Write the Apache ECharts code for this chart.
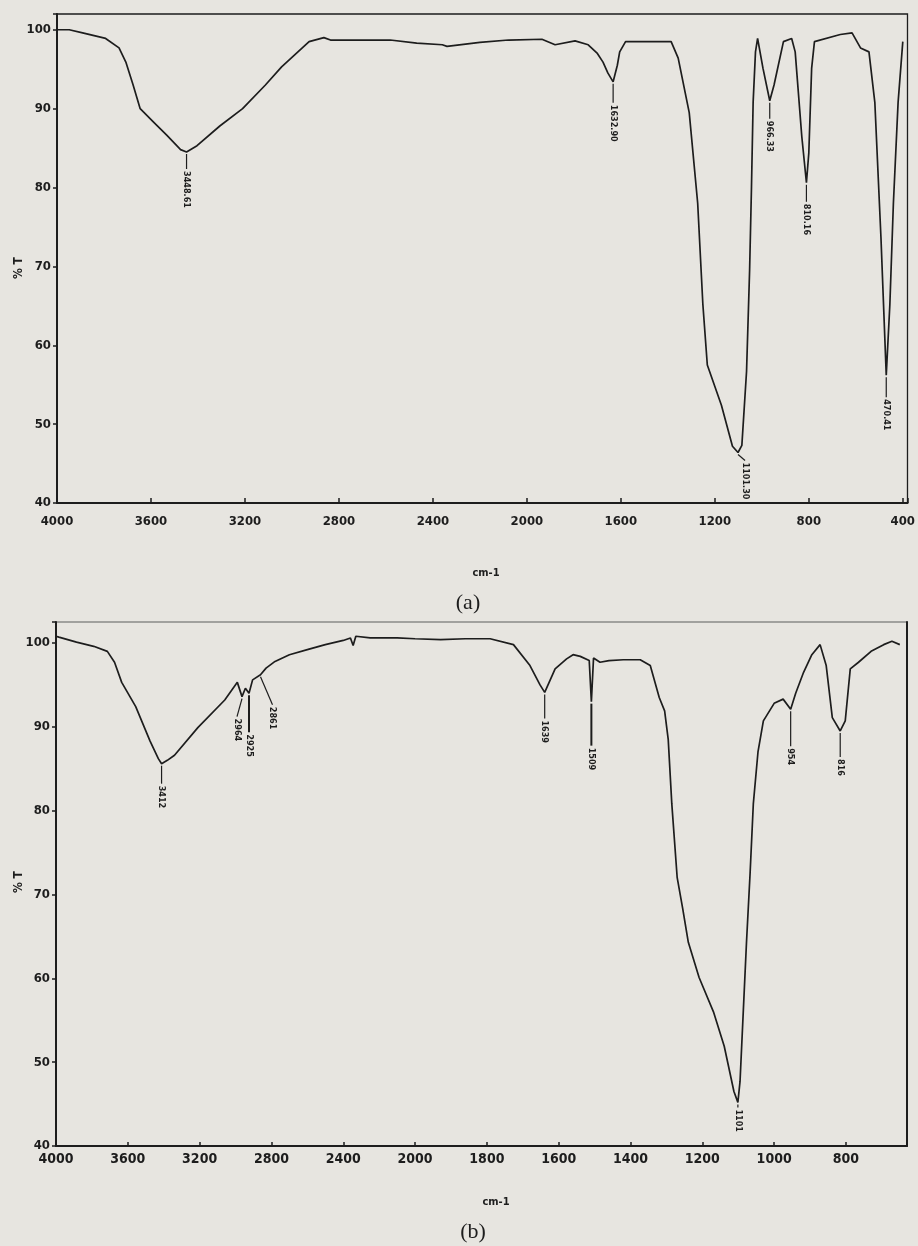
<!DOCTYPE html>
<html>
<head>
<meta charset="utf-8">
<script src="https://cdn.jsdelivr.net/npm/echarts@6/dist/echarts.min.js"></script>
<style>
  html, body { margin: 0; padding: 0; background: #e7e5e0; }
  #chart { width: 918px; height: 1246px; }
</style>
</head>
<body>
<div id="chart"></div>
<script>
// spectrum (a): wavenumber (cm-1) and %T
const wnA = [4000, 3948, 3891, 3793, 3736, 3707, 3676, 3646, 3589, 3532, 3474, 3448.61, 3404, 3307, 3210, 3113, 3044, 2927, 2864, 2836, 2582, 2469, 2360, 2340, 2200, 2078, 1936, 1880, 1795, 1739, 1700, 1676, 1655, 1632.9, 1615, 1605, 1580, 1386, 1356, 1309, 1273, 1251, 1232, 1172, 1125, 1101.3, 1085, 1065, 1052, 1044, 1037, 1027, 1018, 995, 966.33, 948, 908, 873, 858, 830, 810.16, 800, 788, 776, 666, 616, 580, 544, 519, 493, 470.41, 455, 440, 420, 400]
const tA = [100.0, 100.0, 99.6, 98.9, 97.7, 95.9, 93.0, 90.0, 88.3, 86.6, 84.8, 84.5, 85.3, 87.8, 90.0, 93.0, 95.3, 98.5, 99.0, 98.7, 98.7, 98.3, 98.1, 97.9, 98.4, 98.7, 98.8, 98.1, 98.6, 98.1, 97.0, 95.9, 94.5, 93.4, 95.5, 97.2, 98.5, 98.5, 96.4, 89.5, 78.0, 65.2, 57.5, 52.4, 47.2, 46.4, 47.3, 56.7, 69.5, 80.1, 90.8, 97.2, 98.9, 95.1, 91.0, 93.0, 98.5, 98.9, 97.2, 86.5, 80.6, 84.4, 95.1, 98.5, 99.4, 99.6, 97.7, 97.2, 90.8, 73.7, 56.2, 65.2, 78.0, 90.8, 98.5]
const peakWnA = [3448.61, 1632.9, 1101.3, 966.33, 810.16, 470.41]
const peakTA = [84.5, 93.4, 46.4, 91.0, 80.6, 56.2]
const peakTextA = ['3448.61', '1632.90', '1101.30', '966.33', '810.16', '470.41']

// spectrum (b)
const wnB = [4000, 3984, 3886, 3790, 3714, 3674, 3634, 3556, 3476, 3430, 3412, 3380, 3340, 3210, 3060, 2990, 2964, 2945, 2925, 2905, 2861, 2830, 2780, 2700, 2600, 2500, 2400, 2360, 2345, 2330, 2250, 2100, 2000, 1929, 1860, 1791, 1726, 1680, 1652, 1639, 1610, 1578, 1560, 1540, 1515, 1509, 1503, 1485, 1460, 1420, 1373, 1345, 1320, 1305, 1295, 1285, 1270, 1255, 1239, 1209, 1169, 1139, 1112, 1101, 1095, 1086, 1077, 1067, 1058, 1045, 1030, 1000, 975, 954, 940, 918, 895, 872, 855, 838, 816, 802, 788, 765, 730, 695, 672, 650]
const tB = [100.8, 100.7, 100.1, 99.6, 99.0, 97.7, 95.3, 92.4, 88.3, 86.2, 85.6, 86.0, 86.6, 89.9, 93.2, 95.3, 93.6, 94.6, 94.0, 95.6, 96.2, 97.0, 97.8, 98.6, 99.2, 99.8, 100.3, 100.6, 99.7, 100.8, 100.6, 100.6, 100.5, 100.4, 100.5, 100.5, 99.8, 97.3, 95.0, 94.1, 96.9, 98.1, 98.6, 98.4, 97.9, 93.0, 98.2, 97.7, 97.9, 98.0, 98.0, 97.3, 93.5, 91.9, 88.5, 80.8, 72.0, 68.4, 64.3, 60.1, 56.0, 51.9, 46.5, 45.2, 47.7, 56.0, 64.3, 72.5, 80.8, 87.0, 90.7, 92.8, 93.3, 92.1, 94.0, 96.5, 98.6, 99.8, 97.3, 91.1, 89.5, 90.7, 96.9, 97.7, 99.0, 99.8, 100.2, 99.8]
const peakWnB = [3412, 2964, 2925, 2861, 1639, 1509, 1101, 954, 816]
const peakTB = [85.6, 93.6, 94.0, 96.2, 94.1, 93.0, 45.2, 92.1, 89.5]
const peakTextB = ['3412', '2964', '2925', '2861', '1639', '1509', '1101', '954', '816']

// (a) is linear, 4000 at the left
const posA = wn => 4000 - wn
// (b) changes scale at 2000 cm-1 (400 per tick left, 200 per tick right)
const posB = wn => (wn >= 2000 ? (4000 - wn) / 2 : 1000 + (2000 - wn))
const labelB = p => (p <= 1000 ? 4000 - 2 * p : 2000 - (p - 1000))

// marker offsets (px) for the peak labels
const markA = [
  { dx: 0, len: 15 }, { dx: 0, len: 19 }, { dx: 7, len: 6 },
  { dx: 0, len: 16 }, { dx: 0, len: 17 }, { dx: 0, len: 20 }
]
const markB = [
  { dx: 0, len: 18 }, { dx: -5, len: 18 }, { dx: 0, len: 37, w: 2 }, { dx: 12, len: 28 },
  { dx: 0, len: 24 }, { dx: 0, len: 42, w: 2 }, { dx: 0, len: 3 }, { dx: 0, len: 35 }, { dx: 0, len: 24 }
]

const ink = '#1d1d1d'
const tickFont = "'Liberation Sans Narrow', 'DejaVu Sans Condensed', 'Liberation Sans', sans-serif"

function peakSeries(gi, xs, ys, texts, marks) {
  return {
    type: 'custom',
    xAxisIndex: gi,
    yAxisIndex: gi,
    silent: true,
    z: 5,
    data: xs.map((x, i) => [x, ys[i], i]),
    renderItem(params, api) {
      const c = api.coord([api.value(0), api.value(1)])
      const i = api.value(2)
      const m = marks[i]
      const x2 = c[0] + m.dx
      const y2 = c[1] + 2 + m.len
      return {
        type: 'group',
        children: [
          { type: 'line', shape: { x1: c[0], y1: c[1] + 2, x2: x2, y2: y2 }, style: { stroke: ink, lineWidth: m.w || 1.2 } },
          {
            type: 'text', x: x2, y: y2 + 2, rotation: -Math.PI / 2,
            style: { text: texts[i], font: "bold 9px " + tickFont, fill: ink, align: 'left', verticalAlign: 'middle' }
          }
        ]
      }
    }
  }
}

function yAxisCfg(gi, max) {
  return {
    type: 'value', gridIndex: gi, min: 40, max: max, interval: 10,
    axisLine: { show: true, lineStyle: { color: ink, width: 2 } },
    axisTick: { show: true, length: 4, lineStyle: { color: ink, width: 1.5 } },
    axisLabel: {
      color: ink, fontFamily: tickFont, fontWeight: 'bold', fontSize: 13, margin: 6,
      formatter: v => (v % 10 === 0 ? String(v) : '')
    },
    splitLine: { show: false }
  }
}

const chart = echarts.init(document.getElementById('chart'), null, { renderer: 'canvas' })
chart.setOption({
  backgroundColor: '#e7e5e0',
  animation: false,
  grid: [
    { left: 57, top: 14, width: 855, height: 489, show: true, borderColor: ink, borderWidth: 1.3, backgroundColor: 'transparent' },
    { left: 56, top: 622, width: 851, height: 524, show: true, borderColor: '#8a8a88', borderWidth: 1.3, backgroundColor: 'transparent' }
  ],
  xAxis: [
    {
      type: 'value', gridIndex: 0, min: 0, max: 3620, interval: 400,
      axisLine: { show: true, lineStyle: { color: ink, width: 2 } },
      axisTick: { show: true, inside: true, length: 5, lineStyle: { color: ink, width: 1.5 } },
      axisLabel: {
        color: ink, fontFamily: tickFont, fontWeight: 'bold', fontSize: 13, margin: 12,
        formatter: v => (v % 400 === 0 ? String(4000 - v) : '')
      },
      splitLine: { show: false }
    },
    {
      type: 'value', gridIndex: 1, min: 0, max: 2370, interval: 200,
      axisLine: { show: true, lineStyle: { color: ink, width: 2 } },
      axisTick: { show: true, inside: true, length: 4, lineStyle: { color: ink, width: 1.5 } },
      axisLabel: {
        color: ink, fontFamily: tickFont, fontWeight: 'bold', fontSize: 14, margin: 6,
        formatter: v => (v % 200 === 0 ? String(labelB(v)) : '')
      },
      splitLine: { show: false }
    }
  ],
  yAxis: [
    yAxisCfg(0, 102),
    yAxisCfg(1, 102.5),
    {
      type: 'value', gridIndex: 1, position: 'right', min: 40, max: 102.5,
      axisLine: { show: true, lineStyle: { color: ink, width: 2 } },
      axisTick: { show: false }, axisLabel: { show: false }, splitLine: { show: false }
    }
  ],
  series: [
    {
      type: 'line', xAxisIndex: 0, yAxisIndex: 0, showSymbol: false, silent: true,
      lineStyle: { color: ink, width: 1.7 },
      data: wnA.map((w, i) => [posA(w), tA[i]])
    },
    {
      type: 'line', xAxisIndex: 1, yAxisIndex: 1, showSymbol: false, silent: true,
      lineStyle: { color: ink, width: 1.7 },
      data: wnB.map((w, i) => [posB(w), tB[i]])
    },
    peakSeries(0, peakWnA.map(posA), peakTA, peakTextA, markA),
    peakSeries(1, peakWnB.map(posB), peakTB, peakTextB, markB)
  ],
  graphic: [
    { type: 'text', x: 19, y: 268, rotation: Math.PI / 2, style: { text: '% T', font: "bold 12px " + tickFont, fill: ink, align: 'center', verticalAlign: 'middle' } },
    { type: 'text', x: 486, y: 573, style: { text: 'cm-1', font: "bold 11px " + tickFont, fill: ink, align: 'center', verticalAlign: 'middle' } },
    { type: 'text', x: 468, y: 603, style: { text: '(a)', font: "22px 'Liberation Serif', serif", fill: ink, align: 'center', verticalAlign: 'middle' } },
    { type: 'text', x: 19, y: 882, rotation: Math.PI / 2, style: { text: '% T', font: "bold 12px " + tickFont, fill: ink, align: 'center', verticalAlign: 'middle' } },
    { type: 'text', x: 496, y: 1202, style: { text: 'cm-1', font: "bold 11px " + tickFont, fill: ink, align: 'center', verticalAlign: 'middle' } },
    { type: 'text', x: 473, y: 1232, style: { text: '(b)', font: "22px 'Liberation Serif', serif", fill: ink, align: 'center', verticalAlign: 'middle' } }
  ]
})
</script>
</body>
</html>
